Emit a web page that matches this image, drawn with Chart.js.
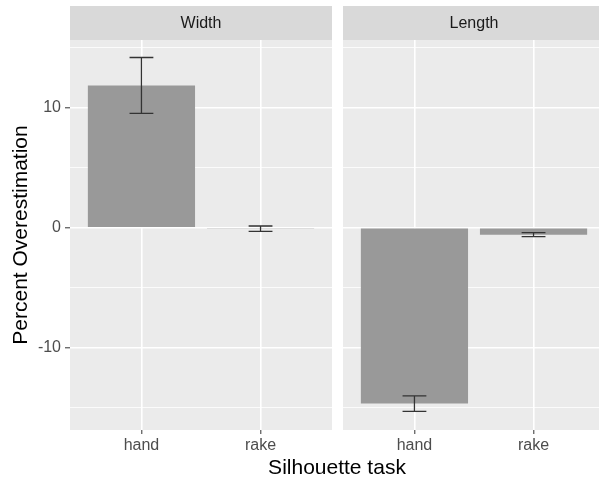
<!DOCTYPE html>
<html>
<head>
<meta charset="utf-8">
<script src="https://cdn.jsdelivr.net/npm/chart.js@4.4.1/dist/chart.umd.min.js"></script>
<style>
  html, body { margin: 0; padding: 0; background: #ffffff; }
  #wrap { position: relative; width: 599px; height: 482px; overflow: hidden; }
  #wrap canvas { position: absolute; left: 0; top: 0; }
</style>
</head>
<body>
<div id="wrap">
  <canvas id="widthChart" width="620" height="482"></canvas>
  <canvas id="lengthChart" width="620" height="482"></canvas>
</div>
<script>
// Data
const categories = ['hand', 'rake'];
const panelNames = ['Width', 'Length'];
const widthMeans = [11.86, -0.07];
const widthErrors = [2.33, 0.22];
const lengthMeans = [-14.65, -0.57];
const lengthErrors = [0.65, 0.17];
const yTicks = [-15, -10, -5, 0, 5, 10, 15];
const yLabels = [-10, 0, 10];

const FONT = "'Liberation Sans', Arial, sans-serif";

// Grey panel background + facet strip on top
const panelPlugin = {
    id: 'panel',
    beforeDraw(chart, args, opts) {
        const { ctx, chartArea } = chart;
        ctx.save();
        ctx.fillStyle = '#ebebeb';
        ctx.fillRect(chartArea.left, chartArea.top, chartArea.right - chartArea.left, chartArea.bottom - chartArea.top);
        ctx.fillStyle = '#d9d9d9';
        ctx.fillRect(chartArea.left, 6, chartArea.right - chartArea.left, chartArea.top - 6);
        ctx.fillStyle = '#1a1a1a';
        ctx.font = '16px ' + FONT;
        ctx.textAlign = 'center';
        ctx.textBaseline = 'middle';
        ctx.fillText(opts.title, (chartArea.left + chartArea.right) / 2, (6 + chartArea.top) / 2 + 1);
        ctx.restore();
    }
};

// Error bars drawn through the scales
const errorBarPlugin = {
    id: 'errorBars',
    afterDatasetsDraw(chart, args, opts) {
        const { ctx } = chart;
        const x = chart.scales.x;
        const y = chart.scales.y;
        ctx.save();
        ctx.strokeStyle = '#333333';
        ctx.lineWidth = 1.3;
        opts.means.forEach((m, i) => {
            const top = y.getPixelForValue(m + opts.errors[i]);
            const bottom = y.getPixelForValue(m - opts.errors[i]);
            const cx = x.getPixelForValue(i);
            const l = x.getPixelForValue(i - 0.1);
            const r = x.getPixelForValue(i + 0.1);
            ctx.beginPath();
            ctx.moveTo(cx, top); ctx.lineTo(cx, bottom);
            ctx.moveTo(l, top); ctx.lineTo(r, top);
            ctx.moveTo(l, bottom); ctx.lineTo(r, bottom);
            ctx.stroke();
        });
        ctx.restore();
    }
};

// Shared axis titles (drawn once, on the left chart)
const axisTitlePlugin = {
    id: 'axisTitles',
    afterDraw(chart) {
        const { ctx } = chart;
        ctx.save();
        ctx.fillStyle = '#000000';
        ctx.font = '21px ' + FONT;
        ctx.textAlign = 'center';
        ctx.textBaseline = 'middle';
        ctx.fillText('Silhouette task', 337, 468);
        ctx.translate(21, 235);
        ctx.rotate(-Math.PI / 2);
        ctx.fillText('Percent Overestimation', 0, 0);
        ctx.restore();
    }
};

function makeChart(canvasId, title, means, errors, showY, padding) {
    const plugins = [panelPlugin, errorBarPlugin];
    if (showY) {
        plugins.push(axisTitlePlugin);
    }
    return new Chart(document.getElementById(canvasId), {
        type: 'bar',
        data: {
            datasets: [{
                data: categories.map((c, i) => ({ x: i, y: means[i] })),
                backgroundColor: '#999999',
                borderWidth: 0,
                categoryPercentage: 0.9,
                barPercentage: 1.0
            }]
        },
        plugins: plugins,
        options: {
            responsive: false,
            animation: false,
            events: [],
            layout: { padding: padding },
            plugins: {
                legend: { display: false },
                tooltip: { enabled: false },
                panel: { title: title },
                errorBars: { means: means, errors: errors }
            },
            scales: {
                x: {
                    type: 'linear',
                    min: -0.6,
                    max: 1.6,
                    offset: false,
                    afterBuildTicks: s => { s.ticks = categories.map((c, i) => ({ value: i })); },
                    afterFit: s => {
                        s.height = 52;
                        s.paddingLeft = 0; s.paddingRight = 0; s.paddingTop = 0; s.paddingBottom = 0;
                    },
                    grid: {
                        offset: false,
                        color: '#ffffff',
                        lineWidth: 1.6,
                        tickLength: 4,
                        tickColor: '#333333',
                        tickWidth: 1
                    },
                    border: { display: false },
                    ticks: {
                        padding: 2,
                        color: '#4d4d4d',
                        autoSkip: false,
                        maxRotation: 0,
                        font: { family: FONT, size: 16 },
                        callback: v => categories[v]
                    }
                },
                y: {
                    type: 'linear',
                    min: -16.85,
                    max: 15.65,
                    afterBuildTicks: s => { s.ticks = yTicks.map(v => ({ value: v })); },
                    afterFit: s => {
                        s.width = showY ? 70 : 0;
                        s.paddingLeft = 0; s.paddingRight = 0; s.paddingTop = 0; s.paddingBottom = 0;
                    },
                    grid: {
                        color: '#ffffff',
                        lineWidth: ctx => (ctx.tick && yLabels.includes(ctx.tick.value)) ? 1.6 : 0.8,
                        drawTicks: showY,
                        tickLength: showY ? 5 : 0,
                        tickColor: ctx => (ctx.tick && yLabels.includes(ctx.tick.value)) ? '#333333' : 'rgba(0,0,0,0)',
                        tickWidth: 1
                    },
                    border: { display: false },
                    ticks: {
                        display: showY,
                        padding: 4,
                        autoSkip: false,
                        color: '#4d4d4d',
                        font: { family: FONT, size: 16 },
                        callback: v => yLabels.includes(v) ? String(v) : ''
                    }
                }
            }
        }
    });
}

const widthChart = makeChart('widthChart', panelNames[0], widthMeans, widthErrors, true,
    { left: 0, top: 40, right: 288, bottom: 0 });
const lengthChart = makeChart('lengthChart', panelNames[1], lengthMeans, lengthErrors, false,
    { left: 343, top: 40, right: 15, bottom: 0 });
</script>
</body>
</html>
